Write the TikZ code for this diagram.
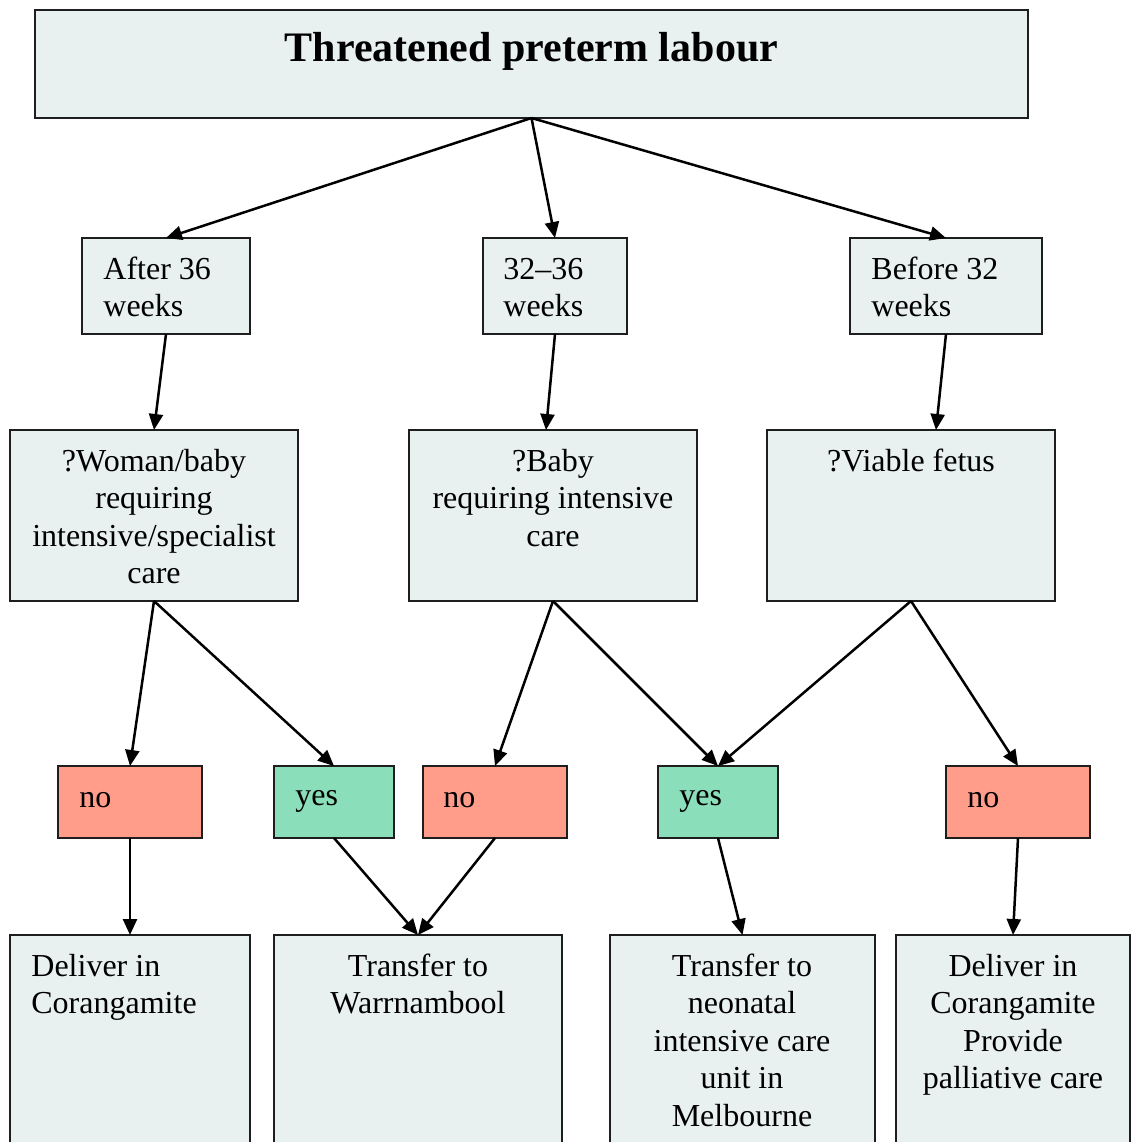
\documentclass[tikz,border=0pt]{standalone}
\usepackage{fontspec}
\setmainfont{Liberation Serif}
\usetikzlibrary{arrows.meta,calc}
\definecolor{boxfill}{RGB}{233,240,240}
\definecolor{nofill}{RGB}{255,156,138}
\definecolor{yesfill}{RGB}{138,222,186}
\definecolor{edge}{RGB}{30,30,30}
\tikzset{
  box/.style={draw=edge,line width=1pt,fill=boxfill,rectangle,inner sep=0pt,outer sep=0pt,anchor=north west},
  nobox/.style={box,fill=nofill,minimum width=72pt,minimum height=36pt},
  yesbox/.style={box,fill=yesfill,minimum width=60pt,minimum height=36pt},
  txt/.style={inner sep=0pt,font=\fontsize{16pt}{18.75pt}\selectfont},
  ltxt/.style={txt,anchor=base west,align=left},
  ctxt/.style={txt,anchor=base,align=center},
  arr/.style={line width=1.25pt,-{Triangle[length=8pt,width=7pt]}}
}
\begin{document}
\begin{tikzpicture}[x=0.5pt,y=-0.5pt]
\useasboundingbox (0,0) rectangle (1134,1142);
\clip (0,0) rectangle (1134,1142);
% boxes
\node[box,minimum width=496.5pt,minimum height=54pt] (title) at (35,10) {};
\node[box,minimum width=84pt,minimum height=48pt] (a36) at (82,238) {};
\node[box,minimum width=72pt,minimum height=48pt] (m36) at (483,238) {};
\node[box,minimum width=96pt,minimum height=48pt] (b32) at (850,238) {};
\node[box,minimum width=144pt,minimum height=85.5pt] (q1) at (10,430) {};
\node[box,minimum width=144pt,minimum height=85.5pt] (q2) at (409,430) {};
\node[box,minimum width=144pt,minimum height=85.5pt] (q3) at (767,430) {};
\node[nobox] (no1) at (58,766) {};
\node[yesbox] (yes1) at (274,766) {};
\node[nobox] (no2) at (423,766) {};
\node[yesbox] (yes2) at (658,766) {};
\node[nobox] (no3) at (946,766) {};
\node[box,minimum width=120pt,minimum height=107.5pt] (d1) at (10,935) {};
\node[box,minimum width=144pt,minimum height=107.5pt] (t1) at (274,935) {};
\node[box,minimum width=132.5pt,minimum height=107.5pt] (t2) at (610,935) {};
\node[box,minimum width=117pt,minimum height=107.5pt] (d2) at (896,935) {};
% texts (multi-line nodes: base = last line's baseline)
\node[inner sep=0pt,anchor=base,font=\fontsize{21pt}{25pt}\selectfont\bfseries] (titletxt) at (531.5,61) {Threatened preterm labour};
\node[ltxt] (a36txt) at (103,316.5) {After 36\\weeks};
\node[ltxt] (m36txt) at (503,316.5) {32–36\\weeks};
\node[ltxt] (b32txt) at (871,316.5) {Before 32\\weeks};
\node[ctxt] (q1txt) at (154,583.5) {?Woman/baby\\requiring\\intensive/specialist\\care};
\node[ctxt] (q2txt) at (553,546) {?Baby\\requiring intensive\\care};
\node[ctxt] (q3txt) at (911,471) {?Viable fetus};
\node[ltxt] (no1txt) at (79,807) {no};
\node[ltxt] (yes1txt) at (295,805) {yes};
\node[ltxt] (no2txt) at (443,807) {no};
\node[ltxt] (yes2txt) at (679,805) {yes};
\node[ltxt] (no3txt) at (967,807) {no};
\node[ltxt] (d1txt) at (31,1013.5) {Deliver in\\Corangamite};
\node[ctxt] (t1txt) at (418,1013.5) {Transfer to\\Warrnambool};
\node[ctxt] (t2txt) at (742,1126) {Transfer to\\neonatal\\intensive care\\unit in\\Melbourne};
\node[ctxt] (d2txt) at (1013,1088.5) {Deliver in\\Corangamite\\Provide\\palliative care};
% connectors
\draw[arr] (title.south) -- (a36.north);
\draw[arr] (title.south) -- ($(m36.north west)+(72,0)$);
\draw[arr] (title.south) -- (b32.north);
\draw[arr] (a36.south) -- (q1.north);
\draw[arr] (m36.south) -- ($(q2.north west)+(137,0)$);
\draw[arr] (b32.south) -- ($(q3.north west)+(169,0)$);
\draw[arr] (q1.south) -- (no1.north);
\draw[arr] (q1.south) -- (yes1.north);
\draw[arr] (q2.south) -- (no2.north);
\draw[arr] (q2.south) -- (yes2.north);
\draw[arr] (q3.south) -- (yes2.north);
\draw[arr] (q3.south) -- (no3.north);
\draw[arr] (no1.south) -- (d1.north);
\draw[arr] (yes1.south) -- (t1.north);
\draw[arr] (no2.south) -- (t1.north);
\draw[arr] (yes2.south) -- (t2.north);
\draw[arr] (no3.south) -- (d2.north);
\end{tikzpicture}
\end{document}
